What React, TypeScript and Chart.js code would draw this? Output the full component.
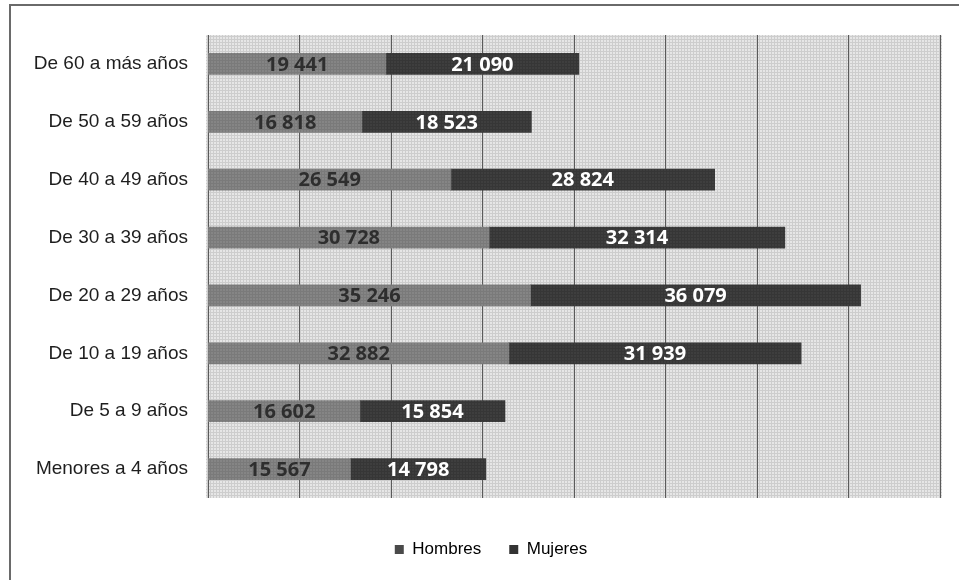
import React, { useEffect, useRef } from "react";
import { Chart, registerables } from "chart.js";

Chart.register(...registerables);

const categories = [
  "De 60 a más años",
  "De 50 a 59 años",
  "De 40 a 49 años",
  "De 30 a 39 años",
  "De 20 a 29 años",
  "De 10 a 19 años",
  "De 5 a 9 años",
  "Menores a 4 años",
];
const hombres = [19441, 16818, 26549, 30728, 35246, 32882, 16602, 15567];
const mujeres = [21090, 18523, 28824, 32314, 36079, 31939, 15854, 14798];
const seriesNames = ["Hombres", "Mujeres"];
const axisMax = 80000;
const axisStep = 10000;

function fmt(v: number): string {
  return String(v).replace(/\B(?=(\d{3})+(?!\d))/g, " ");
}

function makePattern(base: string, line: string, step: number): CanvasPattern | string {
  const c = document.createElement("canvas");
  c.width = step * 4;
  c.height = step * 4;
  const g = c.getContext("2d");
  if (!g) return base;
  g.fillStyle = base;
  g.fillRect(0, 0, c.width, c.height);
  g.fillStyle = line;
  for (let i = 0; i < c.width; i += step) {
    g.fillRect(i, 0, 1, c.height);
    g.fillRect(0, i, c.width, 1);
  }
  const p = g.createPattern(c, "repeat");
  return p || base;
}

const bgPlugin = {
  id: "plotBg",
  afterLayout(chart: any) {
    const lg = chart.legend;
    if (lg) {
      lg.left += 17;
      lg.right += 17;
    }
  },
  beforeDraw(chart: any) {
    const { ctx, chartArea } = chart;
    ctx.save();
    ctx.fillStyle = makePattern("#e6e6e6", "#cdcdcd", 3);
    ctx.fillRect(chartArea.left - 2, chartArea.top, chartArea.right - chartArea.left + 4, chartArea.bottom - chartArea.top);
    ctx.restore();
  },
};

const labelPlugin = {
  id: "barLabels",
  afterDatasetsDraw(chart: any) {
    const { ctx } = chart;
    ctx.save();
    ctx.font = "bold 20px 'Open Sans', 'Noto Sans', sans-serif";
    ctx.textAlign = "center";
    ctx.textBaseline = "middle";
    chart.data.datasets.forEach((ds: any, di: number) => {
      const meta = chart.getDatasetMeta(di);
      meta.data.forEach((el: any, i: number) => {
        const { x, y, base } = el.getProps(["x", "y", "base"], true);
        const cx = (x + base) / 2;
        ctx.fillStyle = di === 0 ? "#2e2e2e" : "#ffffff";
        ctx.fillText(fmt(ds.data[i]), cx, y + 1);
      });
    });
    ctx.restore();
  },
};

export default function App() {
  const ref = useRef<HTMLCanvasElement | null>(null);

  useEffect(() => {
    if (!ref.current) return;
    const hPat = makePattern("#858585", "#7a7a7a", 3);
    const mPat = makePattern("#3e3e3e", "#363636", 3);
    const chart = new Chart(ref.current, {
      type: "bar",
      data: {
        labels: categories,
        datasets: [
          { label: seriesNames[0], data: hombres, backgroundColor: hPat as any, barThickness: 21 },
          { label: seriesNames[1], data: mujeres, backgroundColor: mPat as any, barThickness: 21 },
        ],
      },
      options: {
        indexAxis: "y",
        animation: false,
        responsive: false,
        maintainAspectRatio: false,
        layout: { padding: { left: 8, right: 19, top: 35, bottom: 12 } },
        scales: {
          x: {
            stacked: true,
            min: 0,
            max: axisMax,
            ticks: { display: false, stepSize: axisStep },
            grid: { color: "#5a5a5a", lineWidth: 1, drawTicks: false },
            border: { display: false },
            afterFit(scale: any) {
              scale.height = 15;
            },
          },
          y: {
            stacked: true,
            grid: { display: false, drawTicks: false },
            border: { display: false },
            ticks: {
              color: "#1e1e1e",
              padding: 20,
              autoSkip: false,
              font: { family: "'Liberation Sans', Arial, sans-serif", size: 19 },
            },
            afterFit(scale: any) {
              scale.width = 200;
            },
          },
        },
        plugins: {
          legend: {
            position: "bottom",
            labels: {
              color: "#1e1e1e",
              boxWidth: 9,
              boxHeight: 9,
              padding: 28,
              font: { family: "'Liberation Sans', Arial, sans-serif", size: 17 },
              generateLabels(c: any) {
                return c.data.datasets.map((ds: any, i: number) => ({
                  text: ds.label,
                  fillStyle: i === 0 ? "#4a4a4a" : "#333333",
                  strokeStyle: i === 0 ? "#4a4a4a" : "#333333",
                  lineWidth: 0,
                  datasetIndex: i,
                  hidden: false,
                }));
              },
            },
          },
          tooltip: { enabled: false },
        },
      },
      plugins: [bgPlugin, labelPlugin],
    });
    return () => chart.destroy();
  }, []);

  return (
    <div style={{ position: "fixed", left: 0, top: 0, width: 959, height: 580, background: "#fff" }}>
      <div
        style={{
          position: "absolute",
          left: 9,
          top: 4,
          width: 950,
          height: 576,
          borderLeft: "2px solid #6a6a6a",
          borderTop: "2px solid #6a6a6a",
        }}
      />
      <canvas ref={ref} width={959} height={580} style={{ position: "absolute", left: 0, top: 0 }} />
    </div>
  );
}
